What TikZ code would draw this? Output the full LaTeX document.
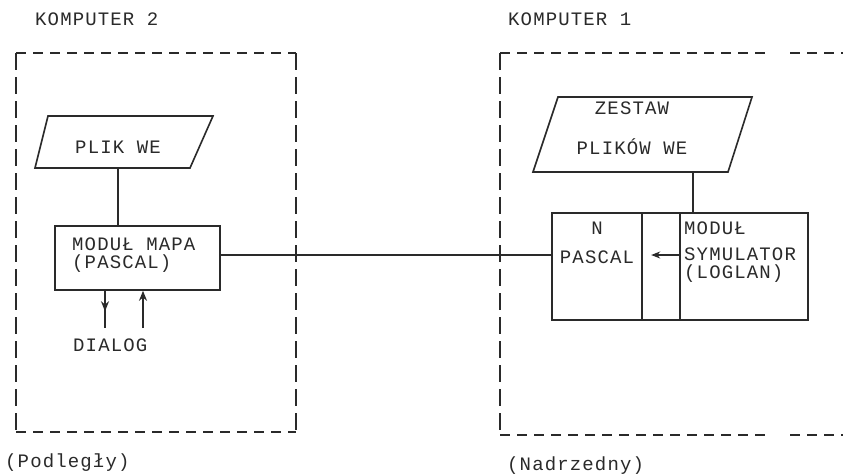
\documentclass[tikz,border=0pt]{standalone}
\usepackage{fontspec}
\newfontfamily\tw[LetterSpace=6]{Liberation Mono}
\usetikzlibrary{decorations.markings,calc,arrows.meta}
\definecolor{ink}{HTML}{2A2A2A}
\tikzset{
  lbl/.style={font=\tw\fontsize{19}{18}\selectfont, text=ink, inner sep=0pt, anchor=west},
  blk/.style={font=\tw\fontsize{19}{18}\selectfont, text=ink, inner sep=0pt, anchor=north west, align=left},
  ctr/.style={font=\tw\fontsize{19}{18}\selectfont, text=ink, inner sep=0pt, align=center},
  boxpart/.style={draw=ink, line width=1.6pt, inner sep=0pt},
  wire/.style={draw=ink, line width=1.6pt},
  hdash/.style={draw=ink, line width=1.6pt, dash pattern=on 10pt off 7pt},
  vdash/.style={draw=ink, line width=1.6pt, dash pattern=on 17pt off 7pt},
  tipend/.style={-{Stealth[length=10pt,width=8pt]}},
  midtip/.style={postaction={decorate}, decoration={markings, mark=at position 0.55 with {\arrow{Stealth[length=10pt,width=8pt]}}}}
}
\begin{document}
\begin{tikzpicture}[x=1pt,y=-1pt]
\useasboundingbox (0,0) rectangle (843,474);
\fill[white] (0,0) rectangle (843,474);

% titles
\node[lbl] (k2) at (35,19) {KOMPUTER 2};
\node[lbl] (k1) at (508,19) {KOMPUTER 1};
\node[lbl] (pod) at (5,463) {(Podległy)};
\node[lbl] (nad) at (507,466) {(Nadrzedny)};

% left dashed frame
\draw[hdash] (16,53) -- (296,53);
\draw[hdash] (16,432) -- (296,432);
\draw[vdash] (16,53) -- (16,432);
\draw[vdash] (296,53) -- (296,432);

% right dashed frame
\draw[hdash] (500,53) -- (768,53);
\draw[hdash] (790,53) -- (843,53);
\draw[hdash] (500,435) -- (768,435);
\draw[hdash] (790,435) -- (843,435);
\draw[vdash] (500,53) -- (500,435);

% PLIK WE
\draw[wire, line join=miter] (48,116) -- (213,116) -- (190,168) -- (35,168) -- cycle;
\coordinate (plikb) at (118,168);
\node[ctr] (plik) at (118,147) {PLIK WE};

% MODUL MAPA
\node[boxpart, minimum width=165pt, minimum height=64pt] (mapa) at (137.5,258) {};
\node[blk] (mapatxt) at (72,238) {MODUŁ MAPA\\(PASCAL)};
\draw[wire] (plikb) -- (plikb |- mapa.north);

% dialog
\coordinate (d1) at (105,328);
\coordinate (d2) at (143,328);
\node[lbl] (dialog) at (73,345) {DIALOG};
\draw[wire, midtip] (d1 |- mapa.south) -- (d1);
\draw[wire, tipend] (d2) -- (d2 |- mapa.south);

% ZESTAW PLIKOW WE
\draw[wire, line join=miter] (558,97) -- (752,97) -- (728,172) -- (533,172) -- cycle;
\coordinate (zestb) at (693,172);
\node[ctr] (zest) at (632,128) {ZESTAW\\[22pt]PLIKÓW WE};

% right compound box
\node[boxpart, minimum width=90pt, minimum height=107pt] (npas) at (597,266.5) {};
\node[boxpart, minimum width=38pt, minimum height=107pt] (mid) at (661,266.5) {};
\node[boxpart, minimum width=128pt, minimum height=107pt] (sym) at (744,266.5) {};
\node[ctr] (pas) at (597,242.5) {N\\[11pt]PASCAL};
\node[blk] (symtxt) at (684,222) {MODUŁ\\[8pt]SYMULATOR\\(LOGLAN)};
\draw[wire] (zestb) -- (zestb |- sym.north);

% link between computers
\draw[wire] ($(mapa.east)+(0,-3)$) -- ($(npas.west)+(0,-11.5)$);

% internal arrow
\draw[draw=ink, line width=1.2pt, -{Stealth[length=9pt,width=7pt]}] ($(sym.west)+(0,-11.5)$) -- ($(mid.west)+(10,-11.5)$);
\end{tikzpicture}
\end{document}
